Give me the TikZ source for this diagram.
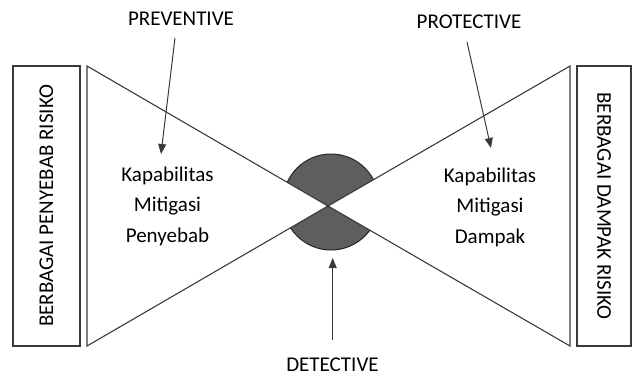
\documentclass[tikz,border=0pt]{standalone}
\usepackage{fontspec}
\setmainfont{Carlito}
\usetikzlibrary{arrows.meta}
\definecolor{inkline}{HTML}{3A3A3A}
\definecolor{wedgefill}{HTML}{5E5E5E}
\begin{document}
\begin{tikzpicture}[x=1pt,y=-1pt,
  edge/.style={draw=inkline, line width=1.1pt},
  sidebox/.style={draw=inkline, line width=1.2pt, minimum width=280pt, inner sep=0pt,
    font=\fontsize{21}{25}\selectfont},
  tag/.style={font=\fontsize{21}{25}\selectfont, inner sep=0pt},
  capability/.style={align=center, font=\fontsize{21}{30.5}\selectfont, inner sep=0pt},
  pointer/.style={draw=inkline, line width=1pt, -{Triangle[length=10pt,width=8pt]}},
  wedge/.style={fill=wedgefill, draw=black!85, line width=1pt}]
\useasboundingbox (0,0) rectangle (632,376);

% side boxes with the risk causes and impacts
\node[sidebox, minimum height=67pt, rotate=90] (causes) at (46.5,206) {BERBAGAI PENYEBAB RISIKO};
\node[sidebox, minimum height=54pt, rotate=-90] (impacts) at (604,206) {BERBAGAI DAMPAK RISIKO};

% bow-tie corners and the crossing point
\coordinate (lt) at (87,66);
\coordinate (lb) at (87,346);
\coordinate (rt) at (570,66);
\coordinate (rb) at (570,346);
\coordinate (knot) at (328,206);
\coordinate (hub) at (331,202);

% shaded detection wedges
\begin{scope}
  \clip (knot) -- (lt) -- (rt) -- cycle;
  \path[wedge] (hub) circle[radius=48];
\end{scope}
\begin{scope}
  \clip (knot) -- (lb) -- (rb) -- cycle;
  \path[wedge] (hub) circle[radius=48];
\end{scope}

% the two triangles of the bow tie
\draw[edge, line join=miter] (lt) -- (lb) -- (knot) -- cycle;
\draw[edge, line join=miter] (rt) -- (rb) -- (knot) -- cycle;

% texts inside the triangles
\node[capability] (cause) at (167.5,206) {Kapabilitas\\Mitigasi\\Penyebab};
\node[capability] (impact) at (490,207) {Kapabilitas\\Mitigasi\\Dampak};

% control labels
\node[tag] (prev) at (181,19) {PREVENTIVE};
\node[tag] (prot) at (469,22) {PROTECTIVE};
\node[tag] (detc) at (332.5,364.5) {DETECTIVE};

% pointer ends
\coordinate (prevTail) at (175,38);
\coordinate (prevTip) at (161,154);
\coordinate (protTail) at (467,42);
\coordinate (protTip) at (491,148);
\coordinate (detcTail) at (332.7,340);
\coordinate (detcTip) at (332.7,258);

\draw[pointer] (prevTail) -- (prevTip);
\draw[pointer] (protTail) -- (protTip);
\draw[pointer] (detcTail) -- (detcTip);
\end{tikzpicture}
\end{document}
